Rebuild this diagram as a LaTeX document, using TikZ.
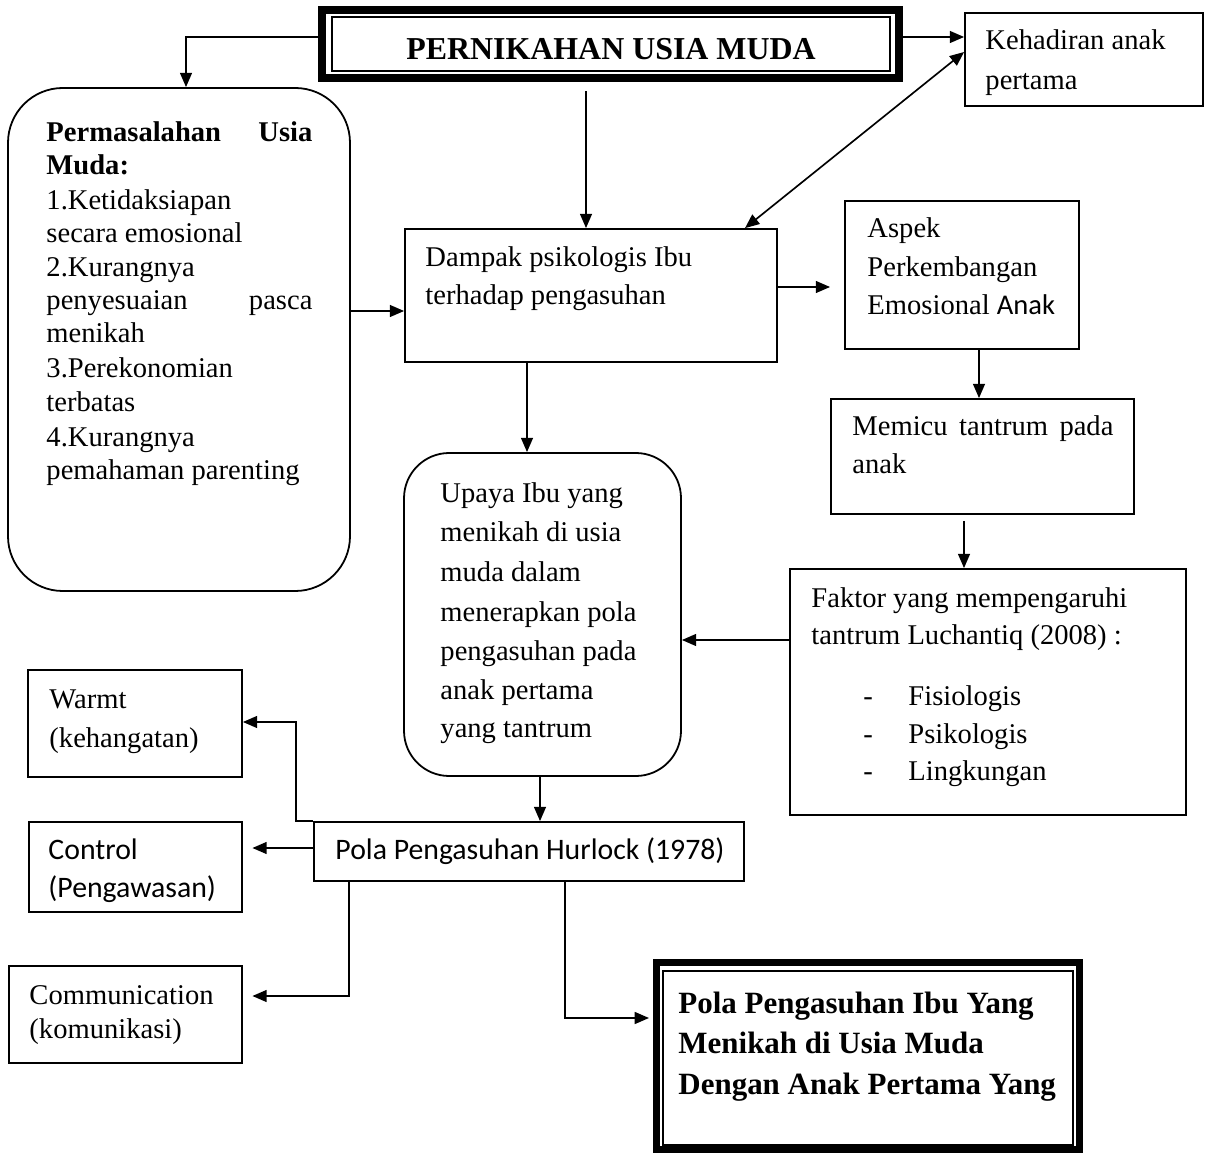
\documentclass[tikz,border=0pt]{standalone}
\usepackage{fontspec}
\setmainfont{Liberation Serif}
\newfontfamily\calfont{Carlito}
\usetikzlibrary{arrows.meta,fit}
\begin{document}
\begin{tikzpicture}[x=0.42pt,y=-0.42pt,
  box/.style={draw, line width=0.75pt, inner sep=0pt},
  rbox/.style={box, rounded corners=23pt},
  thickframe/.style={draw, line width=3.3pt, inner sep=0pt},
  thinframe/.style={draw, line width=0.8pt, inner sep=0pt},
  conn/.style={line width=0.7pt, -{Triangle[length=6pt,width=5pt]}},
  both/.style={line width=0.7pt, {Triangle[length=6pt,width=5pt]}-{Triangle[length=6pt,width=5pt]}},
  txt/.style={anchor=base west, inner sep=0pt, font=\fontsize{12}{14}\selectfont},
  btxt/.style={anchor=base west, inner sep=0pt, font=\fontsize{12}{14}\selectfont\bfseries},
  ctxt/.style={anchor=base west, inner sep=0pt, font=\fontsize{12.5}{14}\selectfont\calfont},
  htxt/.style={anchor=base west, inner sep=0pt, font=\fontsize{13}{16}\selectfont\bfseries},
]
\useasboundingbox (0,0) rectangle (1215,1156);

% ---------- boxes ----------
\node[thickframe, fit={(322,10) (899,78)}] (title) {};
\node[thinframe, fit={(332,17) (890,71)}] (titlein) {};
\node[box, fit={(965,13) (1203,106)}] (keh) {};
\node[rbox, fit={(8,88) (350,591)}] (lbox) {};
\node[box, fit={(405,229) (777,362)}] (dampak) {};
\node[box, fit={(845,201) (1079,349)}] (aspek) {};
\node[box, fit={(831,399) (1134,514)}] (memicu) {};
\node[box, fit={(790,569) (1186,815)}] (faktor) {};
\node[box, rounded corners=19pt, fit={(404,453) (681,776)}] (upaya) {};
\node[box, fit={(28,670) (242,777)}] (warmt) {};
\node[box, fit={(29,822) (242,912)}] (control) {};
\node[box, fit={(314,822) (744,881)}] (pola) {};
\node[box, fit={(9,966) (242,1063)}] (comm) {};
\node[thickframe, fit={(656.5,962.5) (1079.5,1149.5)}] (final) {};
\node[thinframe, fit={(663,971) (1073,1145)}] (finalin) {};

% ---------- texts ----------
\node[anchor=base, inner sep=0pt, font=\fontsize{13.4}{16}\selectfont\bfseries] (t0) at (611,60) {PERNIKAHAN USIA MUDA};

\node[txt] (k1t) at (985,50) {Kehadiran anak};
\node[txt] (k2t) at (985,90) {pertama};

\node[btxt] (l1) at (46,142) {\makebox[111.7pt][s]{Permasalahan Usia}};
\node[btxt] (l2) at (46,175) {Muda:};
\node[txt] (l3) at (46,210) {1.Ketidaksiapan};
\node[txt] (l4) at (46,243) {secara emosional};
\node[txt] (l5) at (46,277) {2.Kurangnya};
\node[txt] (l6) at (46,310) {\makebox[111.7pt][s]{penyesuaian pasca}};
\node[txt] (l7) at (46,343) {menikah};
\node[txt] (l8) at (46,378) {3.Perekonomian};
\node[txt] (l9) at (46,412) {terbatas};
\node[txt] (l10) at (46,447) {4.Kurangnya};
\node[txt] (l11) at (46,480) {pemahaman parenting};

\node[txt] (d1t) at (425,267) {Dampak psikologis Ibu};
\node[txt] (d2t) at (425,305) {terhadap pengasuhan};

\node[txt] (a1t) at (867,238) {Aspek};
\node[txt] (a2t) at (867,277) {Perkembangan};
\node[txt] (a3t) at (867,315) {Emosional {\calfont Anak}};

\node[txt] (m1t) at (852,436) {\makebox[109.6pt][s]{Memicu tantrum pada}};
\node[txt] (m2t) at (852,474) {anak};

\node[txt] (f1t) at (811,607) {Faktor yang mempengaruhi};
\node[txt] (f2t) at (811,645) {tantrum Luchantiq (2008) :};
\node[txt] (f3d) at (863,705) {-};
\node[txt] (f3t) at (908,705) {Fisiologis};
\node[txt] (f4d) at (863,743) {-};
\node[txt] (f4t) at (908,743) {Psikologis};
\node[txt] (f5d) at (863,780) {-};
\node[txt] (f5t) at (908,780) {Lingkungan};

\node[txt] (u1) at (440,503) {Upaya Ibu yang};
\node[txt] (u2) at (440,542) {menikah di usia};
\node[txt] (u3) at (440,582) {muda dalam};
\node[txt] (u4) at (440,621) {menerapkan pola};
\node[txt] (u5) at (440,660) {pengasuhan pada};
\node[txt] (u6) at (440,699) {anak pertama};
\node[txt] (u7) at (440,737) {yang tantrum};

\node[txt] (w1) at (49,708) {Warmt};
\node[txt] (w2) at (49,747) {(kehangatan)};

\node[ctxt] (c1t) at (48,859) {Control};
\node[ctxt] (c2t) at (48,897) {(Pengawasan)};

\node[ctxt] (p1t) at (335,859) {Pola Pengasuhan Hurlock (1978)};

\node[txt] (cm1) at (29,1004) {Communication};
\node[txt] (cm2) at (29,1038) {(komunikasi)};

\node[htxt] (fn1) at (678,1013) {Pola Pengasuhan Ibu Yang};
\node[htxt] (fn2) at (678,1053) {Menikah di Usia Muda};
\node[htxt] (fn3) at (678,1094) {Dengan Anak Pertama Yang};

% ---------- connectors ----------
\coordinate (c1) at (186,37);
\draw[conn] (c1 -| title.west) -- (c1) -- (c1 |- lbox.north);
\coordinate (c2) at (0,37);
\draw[conn] (c2 -| title.east) -- (c2 -| keh.west);
\coordinate (c3a) at (963,52);
\coordinate (c3b) at (745,0);
\draw[both] (keh.west |- c3a) -- (dampak.north -| c3b);
\coordinate (c4) at (586,0);
\draw[conn, shorten <=4pt] (c4 |- title.south) -- (c4 |- dampak.north);
\coordinate (c5) at (0,311);
\draw[conn] (c5 -| lbox.east) -- (c5 -| dampak.west);
\coordinate (c6) at (0,287);
\draw[conn, shorten >=5.9pt] (c6 -| dampak.east) -- (c6 -| aspek.west);
\coordinate (c7) at (979,0);
\draw[conn] (c7 |- aspek.south) -- (c7 |- memicu.north);
\coordinate (c8) at (964,0);
\draw[conn, shorten <=2.5pt] (c8 |- memicu.south) -- (c8 |- faktor.north);
\coordinate (c9) at (0,640);
\draw[conn] (c9 -| faktor.west) -- (c9 -| upaya.east);
\coordinate (c10) at (527,0);
\draw[conn] (c10 |- dampak.south) -- (c10 |- upaya.north);
\coordinate (c11) at (540,0);
\draw[conn] (c11 |- upaya.south) -- (c11 |- pola.north);
\coordinate (c12) at (296,722);
\draw[conn] (pola.north west) -- (pola.north west -| c12) -- (c12) -- (c12 -| warmt.east);
\coordinate (c13) at (0,848);
\draw[conn, shorten >=4pt] (c13 -| pola.west) -- (c13 -| control.east);
\coordinate (c14) at (349,996);
\draw[conn, shorten >=4pt] (pola.south -| c14) -- (c14) -- (c14 -| comm.east);
\coordinate (c15) at (565,1018);
\draw[conn, shorten >=1.5pt] (pola.south -| c15) -- (c15) -- (c15 -| final.west);
\end{tikzpicture}
\end{document}
